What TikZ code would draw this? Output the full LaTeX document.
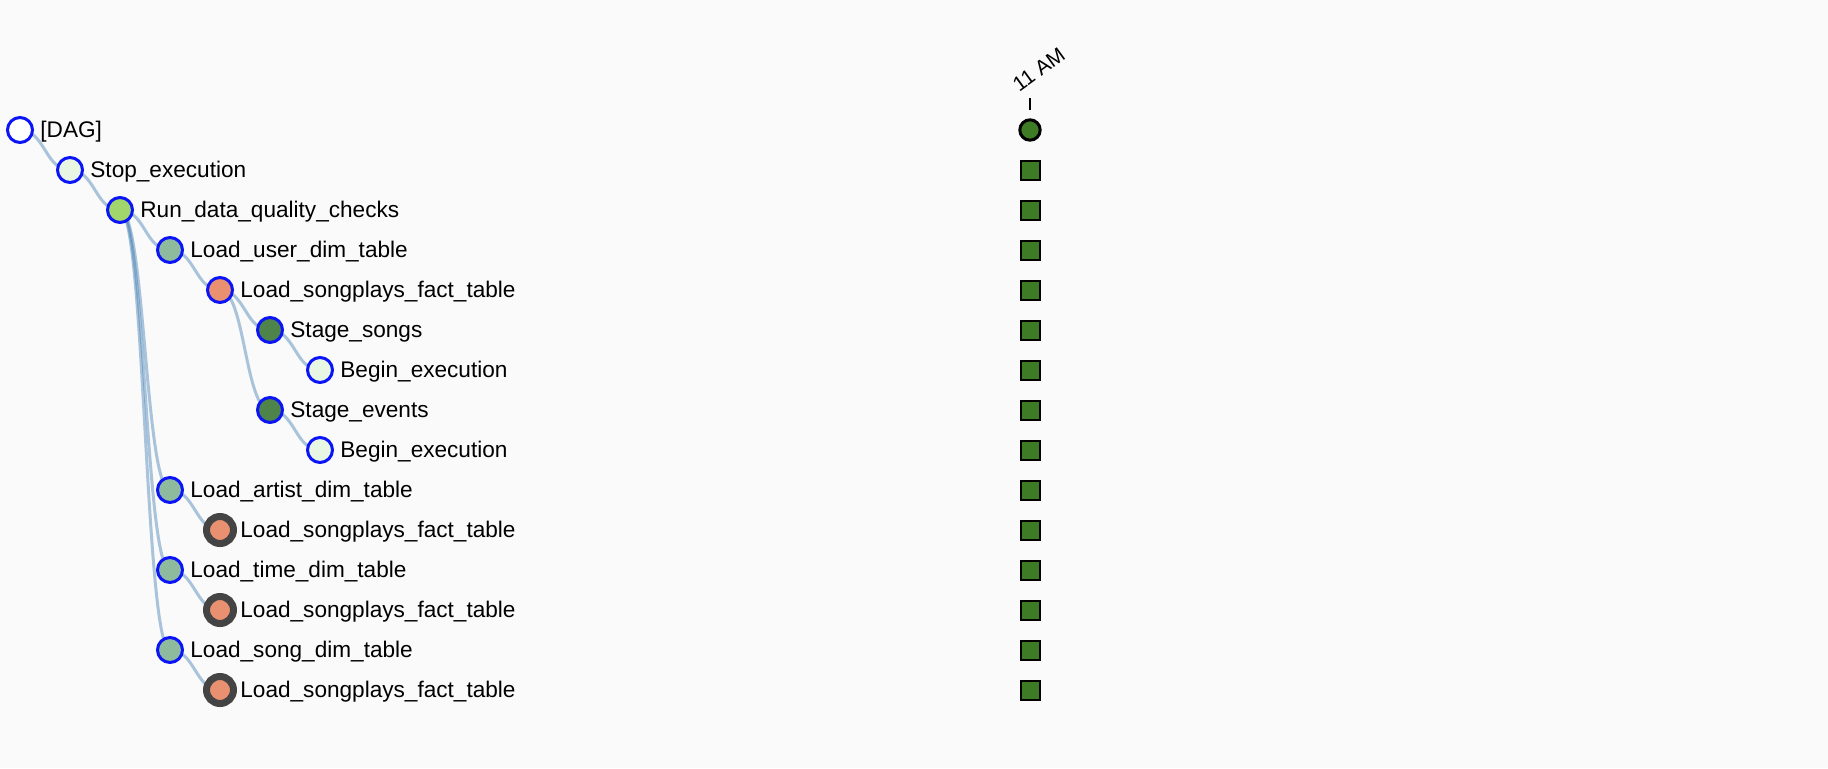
\documentclass[tikz,border=0pt]{standalone}
\usepackage{fontspec}
\setmainfont{Liberation Sans}
\usetikzlibrary{positioning}

\definecolor{pagebg}{HTML}{FAFAFA}
\definecolor{ringblue}{HTML}{0A14F5}
\definecolor{ringgray}{HTML}{444444}
\definecolor{dummyfill}{HTML}{E8F7E4}
\definecolor{checkfill}{HTML}{A0D66B}
\definecolor{dimfill}{HTML}{8EBB9E}
\definecolor{factfill}{HTML}{E8906F}
\definecolor{stagefill}{HTML}{4E844A}
\definecolor{donefill}{HTML}{3D7B25}
\definecolor{linkblue}{HTML}{4682B4}

\pgfdeclarelayer{paper}
\pgfdeclarelayer{links}
\pgfsetlayers{paper,links,main}

\begin{document}
\begin{tikzpicture}[
  x=0.5pt,y=-0.5pt,
  task/.style={circle,draw=ringblue,line width=1.5pt,minimum size=12.5pt,
    inner sep=0pt,outer sep=0pt},
  upstream/.style={circle,draw=ringgray,line width=3.5pt,minimum size=13.5pt,
    inner sep=0pt,outer sep=0pt,fill=factfill},
  tasklabel/.style={anchor=west,inner sep=0pt,text height=0.72em,text depth=0pt,
    font=\fontsize{11.3pt}{13pt}\selectfont},
  link/.style={draw=linkblue,draw opacity=0.45,line width=1.5pt},
  donebox/.style={rectangle,draw=black,line width=1pt,fill=donefill,
    minimum size=9.5pt,inner sep=0pt},
  donerun/.style={circle,draw=black,line width=1.5pt,fill=donefill,
    minimum size=10.2pt,inner sep=0pt},
  hourlabel/.style={inner sep=0pt,font=\fontsize{10.4pt}{12pt}\selectfont}
]
\useasboundingbox (0,0) rectangle (1828,768);
\begin{pgfonlayer}{paper}
\fill[pagebg] (0,0) rectangle (1828,768);
\end{pgfonlayer}

% task tree
\node[task,fill=white]      (dag)    at (20,130) {};
\node[task,fill=dummyfill]  (stop)   at (70,170) {};
\node[task,fill=checkfill]  (check)  at (120,210) {};
\node[task,fill=dimfill]    (user)   at (170,250) {};
\node[task,fill=factfill]   (fact1)  at (220,290) {};
\node[task,fill=stagefill]  (songs)  at (270,330) {};
\node[task,fill=dummyfill]  (begin1) at (320,370) {};
\node[task,fill=stagefill]  (events) at (270,410) {};
\node[task,fill=dummyfill]  (begin2) at (320,450) {};
\node[task,fill=dimfill]    (artist) at (170,490) {};
\node[upstream]             (fact2)  at (220,530) {};
\node[task,fill=dimfill]    (time)   at (170,570) {};
\node[upstream]             (fact3)  at (220,610) {};
\node[task,fill=dimfill]    (song)   at (170,650) {};
\node[upstream]             (fact4)  at (220,690) {};

\node[tasklabel] (dag-l)    at ([xshift=10pt]dag.center)    {[DAG]};
\node[tasklabel] (stop-l)   at ([xshift=10pt]stop.center)   {Stop\_execution};
\node[tasklabel] (check-l)  at ([xshift=10pt]check.center)  {Run\_data\_quality\_checks};
\node[tasklabel] (user-l)   at ([xshift=10pt]user.center)   {Load\_user\_dim\_table};
\node[tasklabel] (fact1-l)  at ([xshift=10pt]fact1.center)  {Load\_songplays\_fact\_table};
\node[tasklabel] (songs-l)  at ([xshift=10pt]songs.center)  {Stage\_songs};
\node[tasklabel] (begin1-l) at ([xshift=10pt]begin1.center) {Begin\_execution};
\node[tasklabel] (events-l) at ([xshift=10pt]events.center) {Stage\_events};
\node[tasklabel] (begin2-l) at ([xshift=10pt]begin2.center) {Begin\_execution};
\node[tasklabel] (artist-l) at ([xshift=10pt]artist.center) {Load\_artist\_dim\_table};
\node[tasklabel] (fact2-l)  at ([xshift=10pt]fact2.center)  {Load\_songplays\_fact\_table};
\node[tasklabel] (time-l)   at ([xshift=10pt]time.center)   {Load\_time\_dim\_table};
\node[tasklabel] (fact3-l)  at ([xshift=10pt]fact3.center)  {Load\_songplays\_fact\_table};
\node[tasklabel] (song-l)   at ([xshift=10pt]song.center)   {Load\_song\_dim\_table};
\node[tasklabel] (fact4-l)  at ([xshift=10pt]fact4.center)  {Load\_songplays\_fact\_table};

\begin{pgfonlayer}{links}
\foreach \a/\b in {dag/stop,stop/check,check/user,check/artist,check/time,
    check/song,user/fact1,fact1/songs,fact1/events,songs/begin1,events/begin2,
    artist/fact2,time/fact3,song/fact4}
  \draw[link] (\a.center) .. controls +(25,0) and +(-25,0) .. (\b.center);
\end{pgfonlayer}

% run status column
\node[donerun] (run) at (1030,130) {};
\foreach \i in {1,...,14}
  \node[donebox] (st\i) at (1030,130+40*\i) {};
\coordinate (tick-top) at (1030,98);
\coordinate (tick-bot) at (1030,110);
\draw[line width=1pt] (tick-top) -- (tick-bot);
\node[hourlabel,rotate=36,anchor=base west] (hour) at (1019,93) {11 AM};
\end{tikzpicture}
\end{document}
